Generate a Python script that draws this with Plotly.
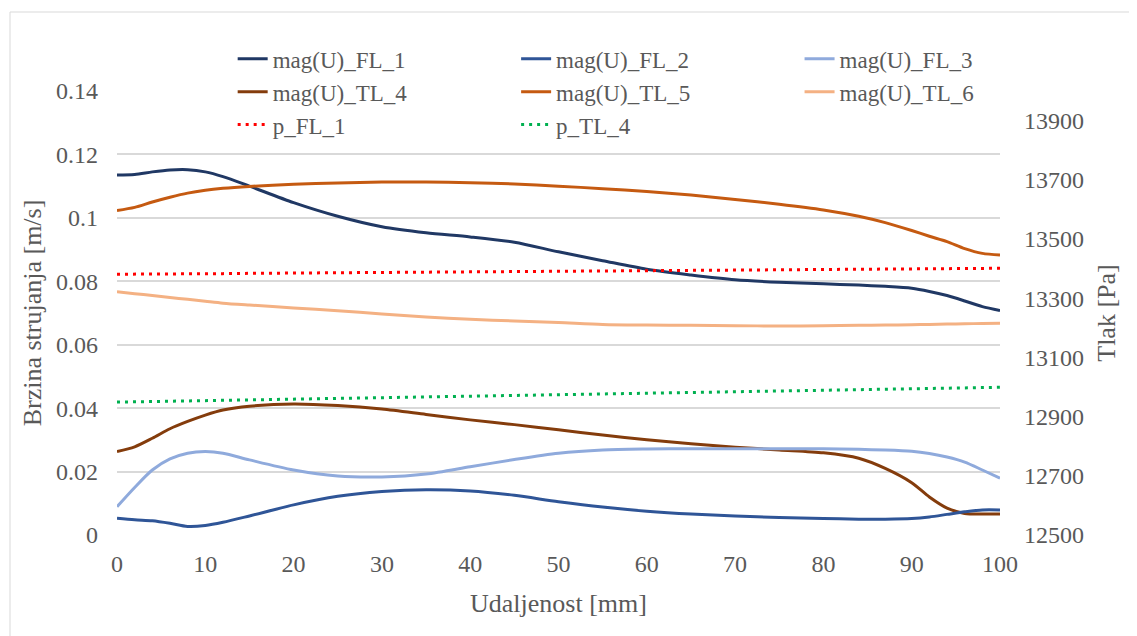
import plotly.graph_objects as go

# ---------------- data ----------------
x_mm = [0, 2, 4, 6, 8, 10, 12, 15, 20, 25, 30, 35, 40, 45, 50, 55, 60, 65, 70, 75,
        80, 84, 87, 90, 92, 94, 96, 98, 100]

mag_FL_1 = [0.1135, 0.1137, 0.1145, 0.1151, 0.1152, 0.1145, 0.1130, 0.1100, 0.1048, 0.1005,
            0.0972, 0.0953, 0.0940, 0.0923, 0.0893, 0.0865, 0.0838, 0.0820, 0.0805, 0.0797,
            0.0792, 0.0788, 0.0784, 0.0778, 0.0768, 0.0755, 0.0738, 0.0720, 0.0708]
mag_FL_2 = [0.0053, 0.0048, 0.0045, 0.0037, 0.0027, 0.0030, 0.0040, 0.0060, 0.0095, 0.0122,
            0.0137, 0.0143, 0.0139, 0.0125, 0.0105, 0.0088, 0.0075, 0.0066, 0.0060, 0.0055,
            0.0052, 0.0050, 0.0050, 0.0052, 0.0057, 0.0065, 0.0073, 0.0079, 0.0079]
mag_FL_3 = [0.0089, 0.0150, 0.0205, 0.0240, 0.0258, 0.0263, 0.0258, 0.0237, 0.0205, 0.0186,
            0.0183, 0.0192, 0.0215, 0.0238, 0.0258, 0.0268, 0.0271, 0.0272, 0.0272, 0.0272,
            0.0272, 0.0270, 0.0268, 0.0264, 0.0257, 0.0246, 0.0230, 0.0205, 0.0179]
mag_TL_4 = [0.0263, 0.0278, 0.0305, 0.0335, 0.0358, 0.0378, 0.0394, 0.0406, 0.0413, 0.0408,
            0.0397, 0.0380, 0.0363, 0.0348, 0.0332, 0.0315, 0.0300, 0.0288, 0.0277, 0.0268,
            0.0259, 0.0242, 0.0210, 0.0165, 0.0120, 0.0085, 0.0068, 0.0066, 0.0066]
mag_TL_5 = [0.1023, 0.1033, 0.1050, 0.1065, 0.1078, 0.1087, 0.1093, 0.1099, 0.1106, 0.1110,
            0.1113, 0.1113, 0.1111, 0.1107, 0.1100, 0.1092, 0.1083, 0.1072, 0.1058, 0.1043,
            0.1025, 0.1005, 0.0985, 0.0960, 0.0942, 0.0925, 0.0903, 0.0888, 0.0883]
mag_TL_6 = [0.0767, 0.0761, 0.0755, 0.0749, 0.0743, 0.0737, 0.0731, 0.0725, 0.0716, 0.0707,
            0.0697, 0.0687, 0.0680, 0.0675, 0.0670, 0.0664, 0.0662, 0.0661, 0.0660, 0.0659,
            0.0660, 0.0661, 0.0662, 0.0663, 0.0664, 0.0665, 0.0666, 0.0667, 0.0668]
p_FL_1 = [13381, 13381, 13382, 13382, 13383, 13383, 13383, 13384, 13385, 13386,
          13387, 13388, 13389, 13390, 13391, 13392, 13393, 13394, 13395, 13396,
          13397, 13398, 13398, 13399, 13399, 13400, 13400, 13401, 13401]
p_TL_4 = [12949, 12950, 12951, 12952, 12953, 12954, 12955, 12956, 12959, 12961,
          12964, 12966, 12969, 12971, 12973, 12976, 12979, 12981, 12984, 12986,
          12989, 12991, 12993, 12994, 12995, 12996, 12997, 12998, 12999]

left_ticks = [0, 0.02, 0.04, 0.06, 0.08, 0.1, 0.12, 0.14]
left_labels = ["0", "0.02", "0.04", "0.06", "0.08", "0.1", "0.12", "0.14"]
right_ticks = [12500, 12700, 12900, 13100, 13300, 13500, 13700, 13900]
right_labels = ["12500", "12700", "12900", "13100", "13300", "13500", "13700", "13900"]
x_ticks = [0, 10, 20, 30, 40, 50, 60, 70, 80, 90, 100]

# ---------------- figure ----------------
FONT = "Liberation Serif"
GREY = "#595959"

fig = go.Figure()

def vel(name, y, color, leg):
    fig.add_trace(go.Scatter(x=x_mm, y=y, name=name, mode="lines",
                             line=dict(color=color, width=3, shape="spline", smoothing=0.8),
                             legend=leg, legendgroup=name))

def prs(name, y, color, leg):
    fig.add_trace(go.Scatter(x=x_mm, y=y, name=name, mode="lines", yaxis="y2",
                             line=dict(color=color, width=3, dash="3px,5px"),
                             legend=leg, legendgroup=name))

vel("mag(U)_FL_1", mag_FL_1, "#203864", "legend")
vel("mag(U)_TL_4", mag_TL_4, "#843C0C", "legend")
prs("p_FL_1", p_FL_1, "#FF0000", "legend")
vel("mag(U)_FL_2", mag_FL_2, "#2F5597", "legend2")
vel("mag(U)_TL_5", mag_TL_5, "#C55A11", "legend2")
prs("p_TL_4", p_TL_4, "#00B050", "legend2")
vel("mag(U)_FL_3", mag_FL_3, "#8FAADC", "legend3")
vel("mag(U)_TL_6", mag_TL_6, "#F4B183", "legend3")

leg_common = dict(orientation="v", yanchor="top", y=1.121, xanchor="left",
                  font=dict(family=FONT, size=23, color=GREY),
                  bgcolor="rgba(0,0,0,0)", tracegroupgap=0, traceorder="normal")

# page body has an 8px margin: plot area is placed so it lands at x 117-1000, y 91-535
fig.update_layout(
    width=1137, height=636,
    margin=dict(l=109, r=145, t=83, b=109, autoexpand=False),
    paper_bgcolor="white", plot_bgcolor="white",
    font=dict(family=FONT, size=24, color=GREY),
    showlegend=True,
    legend=dict(leg_common, x=0.131),
    legend2=dict(leg_common, x=0.452),
    legend3=dict(leg_common, x=0.773),
    xaxis=dict(range=[0, 100], tickvals=x_ticks, showgrid=False, zeroline=False,
               showline=False, ticks="", ticklabelstandoff=12,
               tickfont=dict(family=FONT, size=24, color=GREY),
               title=dict(text="Udaljenost [mm]", font=dict(family=FONT, size=26, color=GREY),
                          standoff=17)),
    yaxis=dict(range=[0, 0.14], tickvals=left_ticks, ticktext=left_labels,
               showgrid=True, gridcolor="#D9D9D9", gridwidth=1.5, zeroline=False,
               showline=False, ticks="", ticklabelstandoff=18,
               tickfont=dict(family=FONT, size=24, color=GREY),
               title=dict(text="Brzina strujanja [m/s]", font=dict(family=FONT, size=26, color=GREY),
                          standoff=6)),
    yaxis2=dict(range=[12500, 14000], tickvals=right_ticks, ticktext=right_labels,
                overlaying="y", side="right",
                showgrid=False, zeroline=False, showline=False, ticks="",
                ticklabelstandoff=23, tickfont=dict(family=FONT, size=24, color=GREY),
                title=dict(text="Tlak [Pa]", font=dict(family=FONT, size=26, color=GREY),
                           standoff=13)),
    shapes=[dict(type="rect", xref="paper", yref="paper",
                 x0=(10 - 117) / 883, x1=(1150 - 117) / 883,
                 y0=(535 - 650) / 444, y1=(535 - 12) / 444,
                 line=dict(color="#D9D9D9", width=1), fillcolor="rgba(0,0,0,0)", layer="below")],
)

fig.write_html("out.html")
